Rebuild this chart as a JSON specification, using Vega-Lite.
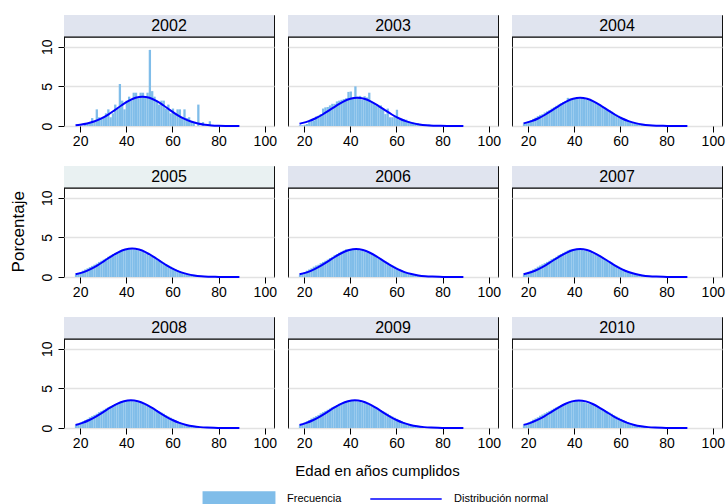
{
"$schema": "https://vega.github.io/schema/vega-lite/v6.json",
"padding": {"left": 10, "top": 14, "right": 5, "bottom": 0},
"title": {"text": "Porcentaje", "orient": "left", "anchor": "middle", "fontSize": 17, "fontWeight": "normal", "font": "Liberation Sans", "color": "#000", "offset": 12, "dx": 30},
"data": {"values": [
{"a":2002,"s":"F","e":21.5,"p":0.2},{"a":2002,"s":"F","e":22.5,"p":0.3},{"a":2002,"s":"F","e":23.5,"p":0.5},{"a":2002,"s":"F","e":24.5,"p":1.0},{"a":2002,"s":"F","e":25.5,"p":0.5},{"a":2002,"s":"F","e":26.5,"p":2.1},{"a":2002,"s":"F","e":27.5,"p":1.1},{"a":2002,"s":"F","e":28.5,"p":0.9},{"a":2002,"s":"F","e":29.5,"p":1.1},{"a":2002,"s":"F","e":30.5,"p":1.6},{"a":2002,"s":"F","e":31.5,"p":2.1},{"a":2002,"s":"F","e":32.5,"p":1.1},{"a":2002,"s":"F","e":33.5,"p":1.6},{"a":2002,"s":"F","e":34.5,"p":2.7},{"a":2002,"s":"F","e":35.5,"p":2.2},{"a":2002,"s":"F","e":36.5,"p":5.3},{"a":2002,"s":"F","e":37.5,"p":3.2},{"a":2002,"s":"F","e":38.5,"p":2.1},{"a":2002,"s":"F","e":39.5,"p":3.2},{"a":2002,"s":"F","e":40.5,"p":3.7},{"a":2002,"s":"F","e":41.5,"p":3.2},{"a":2002,"s":"F","e":42.5,"p":4.2},{"a":2002,"s":"F","e":43.5,"p":4.2},{"a":2002,"s":"F","e":44.5,"p":3.5},{"a":2002,"s":"F","e":45.5,"p":4.2},{"a":2002,"s":"F","e":46.5,"p":4.2},{"a":2002,"s":"F","e":47.5,"p":3.7},{"a":2002,"s":"F","e":48.5,"p":4.2},{"a":2002,"s":"F","e":49.5,"p":9.6},{"a":2002,"s":"F","e":50.5,"p":4.4},{"a":2002,"s":"F","e":51.5,"p":3.7},{"a":2002,"s":"F","e":52.5,"p":3.2},{"a":2002,"s":"F","e":53.5,"p":2.7},{"a":2002,"s":"F","e":54.5,"p":3.2},{"a":2002,"s":"F","e":55.5,"p":3.2},{"a":2002,"s":"F","e":56.5,"p":2.2},{"a":2002,"s":"F","e":57.5,"p":2.7},{"a":2002,"s":"F","e":58.5,"p":1.6},{"a":2002,"s":"F","e":59.5,"p":2.2},{"a":2002,"s":"F","e":60.5,"p":1.6},{"a":2002,"s":"F","e":61.5,"p":2.1},{"a":2002,"s":"F","e":62.5,"p":2.1},{"a":2002,"s":"F","e":63.5,"p":1.1},{"a":2002,"s":"F","e":64.5,"p":2.1},{"a":2002,"s":"F","e":65.5,"p":1.0},{"a":2002,"s":"F","e":66.5,"p":1.1},{"a":2002,"s":"F","e":67.5,"p":0.5},{"a":2002,"s":"F","e":68.5,"p":0.5},{"a":2002,"s":"F","e":70.5,"p":2.7},{"a":2002,"s":"F","e":72.5,"p":0.5},{"a":2002,"s":"F","e":75.5,"p":0.6},
{"a":2002,"s":"N","e":18,"p":0.1},{"a":2002,"s":"N","e":20,"p":0.16},{"a":2002,"s":"N","e":23,"p":0.31},{"a":2002,"s":"N","e":26,"p":0.56},{"a":2002,"s":"N","e":29,"p":0.92},{"a":2002,"s":"N","e":32,"p":1.41},{"a":2002,"s":"N","e":35,"p":2.0},{"a":2002,"s":"N","e":38,"p":2.62},{"a":2002,"s":"N","e":41,"p":3.17},{"a":2002,"s":"N","e":44,"p":3.56},{"a":2002,"s":"N","e":47,"p":3.7},{"a":2002,"s":"N","e":50,"p":3.56},{"a":2002,"s":"N","e":53,"p":3.17},{"a":2002,"s":"N","e":56,"p":2.62},{"a":2002,"s":"N","e":59,"p":2.0},{"a":2002,"s":"N","e":62,"p":1.41},{"a":2002,"s":"N","e":65,"p":0.92},{"a":2002,"s":"N","e":68,"p":0.56},{"a":2002,"s":"N","e":71,"p":0.31},{"a":2002,"s":"N","e":74,"p":0.16},{"a":2002,"s":"N","e":77,"p":0.078},{"a":2002,"s":"N","e":80,"p":0.035},{"a":2002,"s":"N","e":83,"p":0.014},{"a":2002,"s":"N","e":86,"p":0.005},{"a":2002,"s":"N","e":89,"p":0.002},
{"a":2003,"s":"F","e":17.5,"p":0.1},{"a":2003,"s":"F","e":18.5,"p":0.1},{"a":2003,"s":"F","e":19.5,"p":0.15},{"a":2003,"s":"F","e":20.5,"p":0.25},{"a":2003,"s":"F","e":21.5,"p":0.6},{"a":2003,"s":"F","e":22.5,"p":0.65},{"a":2003,"s":"F","e":23.5,"p":0.7},{"a":2003,"s":"F","e":24.5,"p":1.2},{"a":2003,"s":"F","e":25.5,"p":1.3},{"a":2003,"s":"F","e":26.5,"p":1.5},{"a":2003,"s":"F","e":27.5,"p":2.2},{"a":2003,"s":"F","e":28.5,"p":2.35},{"a":2003,"s":"F","e":29.5,"p":2.4},{"a":2003,"s":"F","e":30.5,"p":2.6},{"a":2003,"s":"F","e":31.5,"p":2.8},{"a":2003,"s":"F","e":32.5,"p":2.8},{"a":2003,"s":"F","e":33.5,"p":3.1},{"a":2003,"s":"F","e":34.5,"p":3.2},{"a":2003,"s":"F","e":35.5,"p":3.3},{"a":2003,"s":"F","e":36.5,"p":3.4},{"a":2003,"s":"F","e":37.5,"p":3.5},{"a":2003,"s":"F","e":38.5,"p":4.3},{"a":2003,"s":"F","e":39.5,"p":4.35},{"a":2003,"s":"F","e":40.5,"p":3.6},{"a":2003,"s":"F","e":41.5,"p":5.0},{"a":2003,"s":"F","e":42.5,"p":3.7},{"a":2003,"s":"F","e":43.5,"p":3.8},{"a":2003,"s":"F","e":44.5,"p":3.3},{"a":2003,"s":"F","e":45.5,"p":3.75},{"a":2003,"s":"F","e":46.5,"p":3.6},{"a":2003,"s":"F","e":47.5,"p":4.2},{"a":2003,"s":"F","e":48.5,"p":3.0},{"a":2003,"s":"F","e":49.5,"p":2.8},{"a":2003,"s":"F","e":50.5,"p":2.6},{"a":2003,"s":"F","e":51.5,"p":2.5},{"a":2003,"s":"F","e":52.5,"p":2.6},{"a":2003,"s":"F","e":53.5,"p":2.2},{"a":2003,"s":"F","e":54.5,"p":1.5},{"a":2003,"s":"F","e":55.5,"p":2.2},{"a":2003,"s":"F","e":56.5,"p":1.1},{"a":2003,"s":"F","e":57.5,"p":1.1},{"a":2003,"s":"F","e":58.5,"p":1.3},{"a":2003,"s":"F","e":59.5,"p":2.05},{"a":2003,"s":"F","e":60.5,"p":0.8},{"a":2003,"s":"F","e":61.5,"p":0.8},{"a":2003,"s":"F","e":62.5,"p":0.85},{"a":2003,"s":"F","e":63.5,"p":0.8},{"a":2003,"s":"F","e":64.5,"p":0.6},{"a":2003,"s":"F","e":65.5,"p":0.45},{"a":2003,"s":"F","e":66.5,"p":0.45},{"a":2003,"s":"F","e":67.5,"p":0.4},{"a":2003,"s":"F","e":68.5,"p":0.35},{"a":2003,"s":"F","e":69.5,"p":0.2},{"a":2003,"s":"F","e":70.5,"p":0.2},{"a":2003,"s":"F","e":71.5,"p":0.15},{"a":2003,"s":"F","e":72.5,"p":0.15},{"a":2003,"s":"F","e":73.5,"p":0.2},{"a":2003,"s":"F","e":74.5,"p":0.1},{"a":2003,"s":"F","e":75.5,"p":0.1},{"a":2003,"s":"F","e":76.5,"p":0.05},{"a":2003,"s":"F","e":77.5,"p":0.05},{"a":2003,"s":"F","e":78.5,"p":0.05},{"a":2003,"s":"F","e":79.5,"p":0.03},{"a":2003,"s":"F","e":81.5,"p":0.02},{"a":2003,"s":"F","e":84.5,"p":0.02},
{"a":2003,"s":"N","e":18,"p":0.29},{"a":2003,"s":"N","e":19,"p":0.36},{"a":2003,"s":"N","e":22,"p":0.61},{"a":2003,"s":"N","e":25,"p":0.98},{"a":2003,"s":"N","e":28,"p":1.45},{"a":2003,"s":"N","e":31,"p":2.01},{"a":2003,"s":"N","e":34,"p":2.58},{"a":2003,"s":"N","e":37,"p":3.08},{"a":2003,"s":"N","e":40,"p":3.43},{"a":2003,"s":"N","e":43,"p":3.56},{"a":2003,"s":"N","e":46,"p":3.43},{"a":2003,"s":"N","e":49,"p":3.08},{"a":2003,"s":"N","e":52,"p":2.58},{"a":2003,"s":"N","e":55,"p":2.01},{"a":2003,"s":"N","e":58,"p":1.45},{"a":2003,"s":"N","e":61,"p":0.98},{"a":2003,"s":"N","e":64,"p":0.61},{"a":2003,"s":"N","e":67,"p":0.36},{"a":2003,"s":"N","e":70,"p":0.195},{"a":2003,"s":"N","e":73,"p":0.099},{"a":2003,"s":"N","e":76,"p":0.046},{"a":2003,"s":"N","e":79,"p":0.02},{"a":2003,"s":"N","e":82,"p":0.008},{"a":2003,"s":"N","e":85,"p":0.003},{"a":2003,"s":"N","e":89,"p":0.001},
{"a":2004,"s":"F","e":17.5,"p":0.3},{"a":2004,"s":"F","e":18.5,"p":0.45},{"a":2004,"s":"F","e":19.5,"p":0.6},{"a":2004,"s":"F","e":20.5,"p":0.75},{"a":2004,"s":"F","e":21.5,"p":0.9},{"a":2004,"s":"F","e":22.5,"p":1.05},{"a":2004,"s":"F","e":23.5,"p":1.25},{"a":2004,"s":"F","e":24.5,"p":1.4},{"a":2004,"s":"F","e":25.5,"p":1.5},{"a":2004,"s":"F","e":26.5,"p":1.7},{"a":2004,"s":"F","e":27.5,"p":1.85},{"a":2004,"s":"F","e":28.5,"p":2.0},{"a":2004,"s":"F","e":29.5,"p":2.2},{"a":2004,"s":"F","e":30.5,"p":2.35},{"a":2004,"s":"F","e":31.5,"p":2.55},{"a":2004,"s":"F","e":32.5,"p":2.7},{"a":2004,"s":"F","e":33.5,"p":2.85},{"a":2004,"s":"F","e":34.5,"p":3.0},{"a":2004,"s":"F","e":35.5,"p":3.15},{"a":2004,"s":"F","e":36.5,"p":3.55},{"a":2004,"s":"F","e":37.5,"p":3.45},{"a":2004,"s":"F","e":38.5,"p":3.5},{"a":2004,"s":"F","e":39.5,"p":3.5},{"a":2004,"s":"F","e":40.5,"p":3.55},{"a":2004,"s":"F","e":41.5,"p":3.45},{"a":2004,"s":"F","e":42.5,"p":3.5},{"a":2004,"s":"F","e":43.5,"p":3.4},{"a":2004,"s":"F","e":44.5,"p":3.3},{"a":2004,"s":"F","e":45.5,"p":3.25},{"a":2004,"s":"F","e":46.5,"p":3.15},{"a":2004,"s":"F","e":47.5,"p":3.05},{"a":2004,"s":"F","e":48.5,"p":2.9},{"a":2004,"s":"F","e":49.5,"p":2.8},{"a":2004,"s":"F","e":50.5,"p":2.65},{"a":2004,"s":"F","e":51.5,"p":2.5},{"a":2004,"s":"F","e":52.5,"p":2.3},{"a":2004,"s":"F","e":53.5,"p":2.15},{"a":2004,"s":"F","e":54.5,"p":2.0},{"a":2004,"s":"F","e":55.5,"p":1.8},{"a":2004,"s":"F","e":56.5,"p":1.65},{"a":2004,"s":"F","e":57.5,"p":1.45},{"a":2004,"s":"F","e":58.5,"p":1.3},{"a":2004,"s":"F","e":59.5,"p":1.15},{"a":2004,"s":"F","e":60.5,"p":1.0},{"a":2004,"s":"F","e":61.5,"p":0.85},{"a":2004,"s":"F","e":62.5,"p":0.7},{"a":2004,"s":"F","e":63.5,"p":0.6},{"a":2004,"s":"F","e":64.5,"p":0.5},{"a":2004,"s":"F","e":65.5,"p":0.4},{"a":2004,"s":"F","e":66.5,"p":0.32},{"a":2004,"s":"F","e":67.5,"p":0.25},{"a":2004,"s":"F","e":68.5,"p":0.2},{"a":2004,"s":"F","e":69.5,"p":0.15},{"a":2004,"s":"F","e":70.5,"p":0.12},{"a":2004,"s":"F","e":71.5,"p":0.1},{"a":2004,"s":"F","e":72.5,"p":0.09},{"a":2004,"s":"F","e":73.5,"p":0.07},{"a":2004,"s":"F","e":74.5,"p":0.05},{"a":2004,"s":"F","e":75.5,"p":0.04},{"a":2004,"s":"F","e":76.5,"p":0.04},{"a":2004,"s":"F","e":77.5,"p":0.03},{"a":2004,"s":"F","e":78.5,"p":0.03},{"a":2004,"s":"F","e":79.5,"p":0.02},{"a":2004,"s":"F","e":80.5,"p":0.02},{"a":2004,"s":"F","e":81.5,"p":0.01},
{"a":2004,"s":"N","e":18,"p":0.33},{"a":2004,"s":"N","e":21.5,"p":0.61},{"a":2004,"s":"N","e":24.5,"p":0.98},{"a":2004,"s":"N","e":27.5,"p":1.45},{"a":2004,"s":"N","e":30.5,"p":2.01},{"a":2004,"s":"N","e":33.5,"p":2.58},{"a":2004,"s":"N","e":36.5,"p":3.08},{"a":2004,"s":"N","e":39.5,"p":3.43},{"a":2004,"s":"N","e":42.5,"p":3.56},{"a":2004,"s":"N","e":45.5,"p":3.43},{"a":2004,"s":"N","e":48.5,"p":3.08},{"a":2004,"s":"N","e":51.5,"p":2.58},{"a":2004,"s":"N","e":54.5,"p":2.01},{"a":2004,"s":"N","e":57.5,"p":1.45},{"a":2004,"s":"N","e":60.5,"p":0.98},{"a":2004,"s":"N","e":63.5,"p":0.61},{"a":2004,"s":"N","e":66.5,"p":0.36},{"a":2004,"s":"N","e":69.5,"p":0.195},{"a":2004,"s":"N","e":72.5,"p":0.099},{"a":2004,"s":"N","e":75.5,"p":0.046},{"a":2004,"s":"N","e":78.5,"p":0.02},{"a":2004,"s":"N","e":81.5,"p":0.008},{"a":2004,"s":"N","e":84.5,"p":0.003},{"a":2004,"s":"N","e":89,"p":0.001},
{"a":2005,"s":"F","e":17.5,"p":0.3},{"a":2005,"s":"F","e":18.5,"p":0.45},{"a":2005,"s":"F","e":19.5,"p":0.6},{"a":2005,"s":"F","e":20.5,"p":0.8},{"a":2005,"s":"F","e":21.5,"p":0.95},{"a":2005,"s":"F","e":22.5,"p":1.1},{"a":2005,"s":"F","e":23.5,"p":1.25},{"a":2005,"s":"F","e":24.5,"p":1.4},{"a":2005,"s":"F","e":25.5,"p":1.55},{"a":2005,"s":"F","e":26.5,"p":1.7},{"a":2005,"s":"F","e":27.5,"p":1.9},{"a":2005,"s":"F","e":28.5,"p":2.05},{"a":2005,"s":"F","e":29.5,"p":2.2},{"a":2005,"s":"F","e":30.5,"p":2.35},{"a":2005,"s":"F","e":31.5,"p":2.55},{"a":2005,"s":"F","e":32.5,"p":2.7},{"a":2005,"s":"F","e":33.5,"p":2.9},{"a":2005,"s":"F","e":34.5,"p":3.0},{"a":2005,"s":"F","e":35.5,"p":3.15},{"a":2005,"s":"F","e":36.5,"p":3.3},{"a":2005,"s":"F","e":37.5,"p":3.4},{"a":2005,"s":"F","e":38.5,"p":3.45},{"a":2005,"s":"F","e":39.5,"p":3.55},{"a":2005,"s":"F","e":40.5,"p":3.5},{"a":2005,"s":"F","e":41.5,"p":3.5},{"a":2005,"s":"F","e":42.5,"p":3.45},{"a":2005,"s":"F","e":43.5,"p":3.4},{"a":2005,"s":"F","e":44.5,"p":3.35},{"a":2005,"s":"F","e":45.5,"p":3.25},{"a":2005,"s":"F","e":46.5,"p":3.15},{"a":2005,"s":"F","e":47.5,"p":3.0},{"a":2005,"s":"F","e":48.5,"p":2.9},{"a":2005,"s":"F","e":49.5,"p":2.75},{"a":2005,"s":"F","e":50.5,"p":2.6},{"a":2005,"s":"F","e":51.5,"p":2.45},{"a":2005,"s":"F","e":52.5,"p":2.3},{"a":2005,"s":"F","e":53.5,"p":2.15},{"a":2005,"s":"F","e":54.5,"p":1.95},{"a":2005,"s":"F","e":55.5,"p":1.8},{"a":2005,"s":"F","e":56.5,"p":1.65},{"a":2005,"s":"F","e":57.5,"p":1.45},{"a":2005,"s":"F","e":58.5,"p":1.3},{"a":2005,"s":"F","e":59.5,"p":1.15},{"a":2005,"s":"F","e":60.5,"p":1.0},{"a":2005,"s":"F","e":61.5,"p":0.85},{"a":2005,"s":"F","e":62.5,"p":0.72},{"a":2005,"s":"F","e":63.5,"p":0.6},{"a":2005,"s":"F","e":64.5,"p":0.5},{"a":2005,"s":"F","e":65.5,"p":0.4},{"a":2005,"s":"F","e":66.5,"p":0.32},{"a":2005,"s":"F","e":67.5,"p":0.25},{"a":2005,"s":"F","e":68.5,"p":0.2},{"a":2005,"s":"F","e":69.5,"p":0.15},{"a":2005,"s":"F","e":70.5,"p":0.12},{"a":2005,"s":"F","e":71.5,"p":0.1},{"a":2005,"s":"F","e":72.5,"p":0.08},{"a":2005,"s":"F","e":73.5,"p":0.06},{"a":2005,"s":"F","e":74.5,"p":0.05},{"a":2005,"s":"F","e":75.5,"p":0.04},{"a":2005,"s":"F","e":76.5,"p":0.04},{"a":2005,"s":"F","e":77.5,"p":0.03},{"a":2005,"s":"F","e":78.5,"p":0.03},{"a":2005,"s":"F","e":79.5,"p":0.02},{"a":2005,"s":"F","e":80.5,"p":0.02},{"a":2005,"s":"F","e":81.5,"p":0.01},
{"a":2005,"s":"N","e":18,"p":0.34},{"a":2005,"s":"N","e":21.5,"p":0.62},{"a":2005,"s":"N","e":24.5,"p":1.0},{"a":2005,"s":"N","e":27.5,"p":1.47},{"a":2005,"s":"N","e":30.5,"p":2.03},{"a":2005,"s":"N","e":33.5,"p":2.61},{"a":2005,"s":"N","e":36.5,"p":3.11},{"a":2005,"s":"N","e":39.5,"p":3.46},{"a":2005,"s":"N","e":42.5,"p":3.59},{"a":2005,"s":"N","e":45.5,"p":3.46},{"a":2005,"s":"N","e":48.5,"p":3.11},{"a":2005,"s":"N","e":51.5,"p":2.61},{"a":2005,"s":"N","e":54.5,"p":2.03},{"a":2005,"s":"N","e":57.5,"p":1.47},{"a":2005,"s":"N","e":60.5,"p":1.0},{"a":2005,"s":"N","e":63.5,"p":0.62},{"a":2005,"s":"N","e":66.5,"p":0.36},{"a":2005,"s":"N","e":69.5,"p":0.195},{"a":2005,"s":"N","e":72.5,"p":0.099},{"a":2005,"s":"N","e":75.5,"p":0.046},{"a":2005,"s":"N","e":78.5,"p":0.02},{"a":2005,"s":"N","e":81.5,"p":0.008},{"a":2005,"s":"N","e":84.5,"p":0.003},{"a":2005,"s":"N","e":89,"p":0.001},
{"a":2006,"s":"F","e":17.5,"p":0.3},{"a":2006,"s":"F","e":18.5,"p":0.5},{"a":2006,"s":"F","e":19.5,"p":0.6},{"a":2006,"s":"F","e":20.5,"p":0.8},{"a":2006,"s":"F","e":21.5,"p":0.95},{"a":2006,"s":"F","e":22.5,"p":1.1},{"a":2006,"s":"F","e":23.5,"p":1.3},{"a":2006,"s":"F","e":24.5,"p":1.45},{"a":2006,"s":"F","e":25.5,"p":1.55},{"a":2006,"s":"F","e":26.5,"p":1.75},{"a":2006,"s":"F","e":27.5,"p":1.9},{"a":2006,"s":"F","e":28.5,"p":2.05},{"a":2006,"s":"F","e":29.5,"p":2.2},{"a":2006,"s":"F","e":30.5,"p":2.4},{"a":2006,"s":"F","e":31.5,"p":2.55},{"a":2006,"s":"F","e":32.5,"p":2.75},{"a":2006,"s":"F","e":33.5,"p":2.9},{"a":2006,"s":"F","e":34.5,"p":3.05},{"a":2006,"s":"F","e":35.5,"p":3.2},{"a":2006,"s":"F","e":36.5,"p":3.35},{"a":2006,"s":"F","e":37.5,"p":3.5},{"a":2006,"s":"F","e":38.5,"p":3.5},{"a":2006,"s":"F","e":39.5,"p":3.5},{"a":2006,"s":"F","e":40.5,"p":3.5},{"a":2006,"s":"F","e":41.5,"p":3.45},{"a":2006,"s":"F","e":42.5,"p":3.45},{"a":2006,"s":"F","e":43.5,"p":3.35},{"a":2006,"s":"F","e":44.5,"p":3.3},{"a":2006,"s":"F","e":45.5,"p":3.2},{"a":2006,"s":"F","e":46.5,"p":3.1},{"a":2006,"s":"F","e":47.5,"p":3.0},{"a":2006,"s":"F","e":48.5,"p":2.85},{"a":2006,"s":"F","e":49.5,"p":2.75},{"a":2006,"s":"F","e":50.5,"p":2.6},{"a":2006,"s":"F","e":51.5,"p":2.45},{"a":2006,"s":"F","e":52.5,"p":2.3},{"a":2006,"s":"F","e":53.5,"p":2.1},{"a":2006,"s":"F","e":54.5,"p":1.95},{"a":2006,"s":"F","e":55.5,"p":1.8},{"a":2006,"s":"F","e":56.5,"p":1.6},{"a":2006,"s":"F","e":57.5,"p":1.45},{"a":2006,"s":"F","e":58.5,"p":1.3},{"a":2006,"s":"F","e":59.5,"p":1.15},{"a":2006,"s":"F","e":60.5,"p":1.0},{"a":2006,"s":"F","e":61.5,"p":0.85},{"a":2006,"s":"F","e":62.5,"p":0.72},{"a":2006,"s":"F","e":63.5,"p":0.6},{"a":2006,"s":"F","e":64.5,"p":0.5},{"a":2006,"s":"F","e":65.5,"p":0.4},{"a":2006,"s":"F","e":66.5,"p":0.32},{"a":2006,"s":"F","e":67.5,"p":0.25},{"a":2006,"s":"F","e":68.5,"p":0.2},{"a":2006,"s":"F","e":69.5,"p":0.15},{"a":2006,"s":"F","e":70.5,"p":0.12},{"a":2006,"s":"F","e":71.5,"p":0.1},{"a":2006,"s":"F","e":72.5,"p":0.08},{"a":2006,"s":"F","e":73.5,"p":0.06},{"a":2006,"s":"F","e":74.5,"p":0.05},{"a":2006,"s":"F","e":75.5,"p":0.04},{"a":2006,"s":"F","e":76.5,"p":0.04},{"a":2006,"s":"F","e":77.5,"p":0.03},{"a":2006,"s":"F","e":78.5,"p":0.03},{"a":2006,"s":"F","e":79.5,"p":0.02},{"a":2006,"s":"F","e":80.5,"p":0.02},{"a":2006,"s":"F","e":81.5,"p":0.01},
{"a":2006,"s":"N","e":18,"p":0.35},{"a":2006,"s":"N","e":21.5,"p":0.62},{"a":2006,"s":"N","e":24.5,"p":0.99},{"a":2006,"s":"N","e":27.5,"p":1.46},{"a":2006,"s":"N","e":30.5,"p":2.01},{"a":2006,"s":"N","e":33.5,"p":2.57},{"a":2006,"s":"N","e":36.5,"p":3.06},{"a":2006,"s":"N","e":39.5,"p":3.41},{"a":2006,"s":"N","e":42.5,"p":3.54},{"a":2006,"s":"N","e":45.5,"p":3.41},{"a":2006,"s":"N","e":48.5,"p":3.06},{"a":2006,"s":"N","e":51.5,"p":2.57},{"a":2006,"s":"N","e":54.5,"p":2.01},{"a":2006,"s":"N","e":57.5,"p":1.46},{"a":2006,"s":"N","e":60.5,"p":0.99},{"a":2006,"s":"N","e":63.5,"p":0.62},{"a":2006,"s":"N","e":66.5,"p":0.37},{"a":2006,"s":"N","e":69.5,"p":0.2},{"a":2006,"s":"N","e":72.5,"p":0.1},{"a":2006,"s":"N","e":75.5,"p":0.048},{"a":2006,"s":"N","e":78.5,"p":0.021},{"a":2006,"s":"N","e":81.5,"p":0.008},{"a":2006,"s":"N","e":84.5,"p":0.003},{"a":2006,"s":"N","e":89,"p":0.001},
{"a":2007,"s":"F","e":17.5,"p":0.3},{"a":2007,"s":"F","e":18.5,"p":0.45},{"a":2007,"s":"F","e":19.5,"p":0.65},{"a":2007,"s":"F","e":20.5,"p":0.8},{"a":2007,"s":"F","e":21.5,"p":0.95},{"a":2007,"s":"F","e":22.5,"p":1.1},{"a":2007,"s":"F","e":23.5,"p":1.3},{"a":2007,"s":"F","e":24.5,"p":1.45},{"a":2007,"s":"F","e":25.5,"p":1.6},{"a":2007,"s":"F","e":26.5,"p":1.75},{"a":2007,"s":"F","e":27.5,"p":1.9},{"a":2007,"s":"F","e":28.5,"p":2.05},{"a":2007,"s":"F","e":29.5,"p":2.25},{"a":2007,"s":"F","e":30.5,"p":2.4},{"a":2007,"s":"F","e":31.5,"p":2.55},{"a":2007,"s":"F","e":32.5,"p":2.75},{"a":2007,"s":"F","e":33.5,"p":2.9},{"a":2007,"s":"F","e":34.5,"p":3.05},{"a":2007,"s":"F","e":35.5,"p":3.2},{"a":2007,"s":"F","e":36.5,"p":3.35},{"a":2007,"s":"F","e":37.5,"p":3.45},{"a":2007,"s":"F","e":38.5,"p":3.5},{"a":2007,"s":"F","e":39.5,"p":3.45},{"a":2007,"s":"F","e":40.5,"p":3.5},{"a":2007,"s":"F","e":41.5,"p":3.45},{"a":2007,"s":"F","e":42.5,"p":3.4},{"a":2007,"s":"F","e":43.5,"p":3.35},{"a":2007,"s":"F","e":44.5,"p":3.3},{"a":2007,"s":"F","e":45.5,"p":3.2},{"a":2007,"s":"F","e":46.5,"p":3.1},{"a":2007,"s":"F","e":47.5,"p":2.95},{"a":2007,"s":"F","e":48.5,"p":2.85},{"a":2007,"s":"F","e":49.5,"p":2.7},{"a":2007,"s":"F","e":50.5,"p":2.6},{"a":2007,"s":"F","e":51.5,"p":2.45},{"a":2007,"s":"F","e":52.5,"p":2.3},{"a":2007,"s":"F","e":53.5,"p":2.1},{"a":2007,"s":"F","e":54.5,"p":1.95},{"a":2007,"s":"F","e":55.5,"p":1.8},{"a":2007,"s":"F","e":56.5,"p":1.6},{"a":2007,"s":"F","e":57.5,"p":1.45},{"a":2007,"s":"F","e":58.5,"p":1.3},{"a":2007,"s":"F","e":59.5,"p":1.15},{"a":2007,"s":"F","e":60.5,"p":1.0},{"a":2007,"s":"F","e":61.5,"p":0.85},{"a":2007,"s":"F","e":62.5,"p":0.72},{"a":2007,"s":"F","e":63.5,"p":0.6},{"a":2007,"s":"F","e":64.5,"p":0.5},{"a":2007,"s":"F","e":65.5,"p":0.4},{"a":2007,"s":"F","e":66.5,"p":0.33},{"a":2007,"s":"F","e":67.5,"p":0.26},{"a":2007,"s":"F","e":68.5,"p":0.2},{"a":2007,"s":"F","e":69.5,"p":0.16},{"a":2007,"s":"F","e":70.5,"p":0.12},{"a":2007,"s":"F","e":71.5,"p":0.1},{"a":2007,"s":"F","e":72.5,"p":0.08},{"a":2007,"s":"F","e":73.5,"p":0.06},{"a":2007,"s":"F","e":74.5,"p":0.05},{"a":2007,"s":"F","e":75.5,"p":0.04},{"a":2007,"s":"F","e":76.5,"p":0.04},{"a":2007,"s":"F","e":77.5,"p":0.03},{"a":2007,"s":"F","e":78.5,"p":0.03},{"a":2007,"s":"F","e":79.5,"p":0.02},{"a":2007,"s":"F","e":80.5,"p":0.02},{"a":2007,"s":"F","e":81.5,"p":0.01},
{"a":2007,"s":"N","e":18,"p":0.35},{"a":2007,"s":"N","e":21.5,"p":0.63},{"a":2007,"s":"N","e":24.5,"p":1.0},{"a":2007,"s":"N","e":27.5,"p":1.47},{"a":2007,"s":"N","e":30.5,"p":2.02},{"a":2007,"s":"N","e":33.5,"p":2.57},{"a":2007,"s":"N","e":36.5,"p":3.05},{"a":2007,"s":"N","e":39.5,"p":3.4},{"a":2007,"s":"N","e":42.5,"p":3.52},{"a":2007,"s":"N","e":45.5,"p":3.4},{"a":2007,"s":"N","e":48.5,"p":3.05},{"a":2007,"s":"N","e":51.5,"p":2.57},{"a":2007,"s":"N","e":54.5,"p":2.02},{"a":2007,"s":"N","e":57.5,"p":1.47},{"a":2007,"s":"N","e":60.5,"p":1.0},{"a":2007,"s":"N","e":63.5,"p":0.63},{"a":2007,"s":"N","e":66.5,"p":0.37},{"a":2007,"s":"N","e":69.5,"p":0.2},{"a":2007,"s":"N","e":72.5,"p":0.1},{"a":2007,"s":"N","e":75.5,"p":0.048},{"a":2007,"s":"N","e":78.5,"p":0.021},{"a":2007,"s":"N","e":81.5,"p":0.008},{"a":2007,"s":"N","e":84.5,"p":0.003},{"a":2007,"s":"N","e":89,"p":0.001},
{"a":2008,"s":"F","e":17.5,"p":0.35},{"a":2008,"s":"F","e":18.5,"p":0.5},{"a":2008,"s":"F","e":19.5,"p":0.7},{"a":2008,"s":"F","e":20.5,"p":0.85},{"a":2008,"s":"F","e":21.5,"p":1.0},{"a":2008,"s":"F","e":22.5,"p":1.15},{"a":2008,"s":"F","e":23.5,"p":1.35},{"a":2008,"s":"F","e":24.5,"p":1.5},{"a":2008,"s":"F","e":25.5,"p":1.65},{"a":2008,"s":"F","e":26.5,"p":1.8},{"a":2008,"s":"F","e":27.5,"p":2.0},{"a":2008,"s":"F","e":28.5,"p":2.15},{"a":2008,"s":"F","e":29.5,"p":2.3},{"a":2008,"s":"F","e":30.5,"p":2.45},{"a":2008,"s":"F","e":31.5,"p":2.6},{"a":2008,"s":"F","e":32.5,"p":2.75},{"a":2008,"s":"F","e":33.5,"p":2.9},{"a":2008,"s":"F","e":34.5,"p":3.0},{"a":2008,"s":"F","e":35.5,"p":3.15},{"a":2008,"s":"F","e":36.5,"p":3.25},{"a":2008,"s":"F","e":37.5,"p":3.35},{"a":2008,"s":"F","e":38.5,"p":3.4},{"a":2008,"s":"F","e":39.5,"p":3.4},{"a":2008,"s":"F","e":40.5,"p":3.45},{"a":2008,"s":"F","e":41.5,"p":3.4},{"a":2008,"s":"F","e":42.5,"p":3.35},{"a":2008,"s":"F","e":43.5,"p":3.3},{"a":2008,"s":"F","e":44.5,"p":3.25},{"a":2008,"s":"F","e":45.5,"p":3.15},{"a":2008,"s":"F","e":46.5,"p":3.05},{"a":2008,"s":"F","e":47.5,"p":2.95},{"a":2008,"s":"F","e":48.5,"p":2.8},{"a":2008,"s":"F","e":49.5,"p":2.7},{"a":2008,"s":"F","e":50.5,"p":2.55},{"a":2008,"s":"F","e":51.5,"p":2.4},{"a":2008,"s":"F","e":52.5,"p":2.25},{"a":2008,"s":"F","e":53.5,"p":2.1},{"a":2008,"s":"F","e":54.5,"p":1.95},{"a":2008,"s":"F","e":55.5,"p":1.8},{"a":2008,"s":"F","e":56.5,"p":1.6},{"a":2008,"s":"F","e":57.5,"p":1.45},{"a":2008,"s":"F","e":58.5,"p":1.3},{"a":2008,"s":"F","e":59.5,"p":1.15},{"a":2008,"s":"F","e":60.5,"p":1.0},{"a":2008,"s":"F","e":61.5,"p":0.85},{"a":2008,"s":"F","e":62.5,"p":0.72},{"a":2008,"s":"F","e":63.5,"p":0.6},{"a":2008,"s":"F","e":64.5,"p":0.5},{"a":2008,"s":"F","e":65.5,"p":0.4},{"a":2008,"s":"F","e":66.5,"p":0.32},{"a":2008,"s":"F","e":67.5,"p":0.26},{"a":2008,"s":"F","e":68.5,"p":0.2},{"a":2008,"s":"F","e":69.5,"p":0.16},{"a":2008,"s":"F","e":70.5,"p":0.13},{"a":2008,"s":"F","e":71.5,"p":0.1},{"a":2008,"s":"F","e":72.5,"p":0.08},{"a":2008,"s":"F","e":73.5,"p":0.07},{"a":2008,"s":"F","e":74.5,"p":0.05},{"a":2008,"s":"F","e":75.5,"p":0.04},{"a":2008,"s":"F","e":76.5,"p":0.04},{"a":2008,"s":"F","e":77.5,"p":0.03},{"a":2008,"s":"F","e":78.5,"p":0.03},{"a":2008,"s":"F","e":79.5,"p":0.02},{"a":2008,"s":"F","e":80.5,"p":0.02},{"a":2008,"s":"F","e":81.5,"p":0.01},
{"a":2008,"s":"N","e":18,"p":0.38},{"a":2008,"s":"N","e":21,"p":0.64},{"a":2008,"s":"N","e":24,"p":1.01},{"a":2008,"s":"N","e":27,"p":1.47},{"a":2008,"s":"N","e":30,"p":2.01},{"a":2008,"s":"N","e":33,"p":2.56},{"a":2008,"s":"N","e":36,"p":3.05},{"a":2008,"s":"N","e":39,"p":3.38},{"a":2008,"s":"N","e":42,"p":3.5},{"a":2008,"s":"N","e":45,"p":3.38},{"a":2008,"s":"N","e":48,"p":3.05},{"a":2008,"s":"N","e":51,"p":2.56},{"a":2008,"s":"N","e":54,"p":2.01},{"a":2008,"s":"N","e":57,"p":1.47},{"a":2008,"s":"N","e":60,"p":1.01},{"a":2008,"s":"N","e":63,"p":0.64},{"a":2008,"s":"N","e":66,"p":0.38},{"a":2008,"s":"N","e":69,"p":0.21},{"a":2008,"s":"N","e":72,"p":0.11},{"a":2008,"s":"N","e":75,"p":0.053},{"a":2008,"s":"N","e":78,"p":0.024},{"a":2008,"s":"N","e":81,"p":0.01},{"a":2008,"s":"N","e":84,"p":0.004},{"a":2008,"s":"N","e":89,"p":0.001},
{"a":2009,"s":"F","e":17.5,"p":0.35},{"a":2009,"s":"F","e":18.5,"p":0.5},{"a":2009,"s":"F","e":19.5,"p":0.7},{"a":2009,"s":"F","e":20.5,"p":0.85},{"a":2009,"s":"F","e":21.5,"p":1.0},{"a":2009,"s":"F","e":22.5,"p":1.2},{"a":2009,"s":"F","e":23.5,"p":1.35},{"a":2009,"s":"F","e":24.5,"p":1.5},{"a":2009,"s":"F","e":25.5,"p":1.65},{"a":2009,"s":"F","e":26.5,"p":1.85},{"a":2009,"s":"F","e":27.5,"p":2.0},{"a":2009,"s":"F","e":28.5,"p":2.15},{"a":2009,"s":"F","e":29.5,"p":2.3},{"a":2009,"s":"F","e":30.5,"p":2.45},{"a":2009,"s":"F","e":31.5,"p":2.6},{"a":2009,"s":"F","e":32.5,"p":2.75},{"a":2009,"s":"F","e":33.5,"p":2.9},{"a":2009,"s":"F","e":34.5,"p":3.05},{"a":2009,"s":"F","e":35.5,"p":3.15},{"a":2009,"s":"F","e":36.5,"p":3.25},{"a":2009,"s":"F","e":37.5,"p":3.35},{"a":2009,"s":"F","e":38.5,"p":3.4},{"a":2009,"s":"F","e":39.5,"p":3.45},{"a":2009,"s":"F","e":40.5,"p":3.4},{"a":2009,"s":"F","e":41.5,"p":3.4},{"a":2009,"s":"F","e":42.5,"p":3.35},{"a":2009,"s":"F","e":43.5,"p":3.3},{"a":2009,"s":"F","e":44.5,"p":3.2},{"a":2009,"s":"F","e":45.5,"p":3.15},{"a":2009,"s":"F","e":46.5,"p":3.05},{"a":2009,"s":"F","e":47.5,"p":2.9},{"a":2009,"s":"F","e":48.5,"p":2.8},{"a":2009,"s":"F","e":49.5,"p":2.65},{"a":2009,"s":"F","e":50.5,"p":2.55},{"a":2009,"s":"F","e":51.5,"p":2.4},{"a":2009,"s":"F","e":52.5,"p":2.25},{"a":2009,"s":"F","e":53.5,"p":2.1},{"a":2009,"s":"F","e":54.5,"p":1.95},{"a":2009,"s":"F","e":55.5,"p":1.8},{"a":2009,"s":"F","e":56.5,"p":1.6},{"a":2009,"s":"F","e":57.5,"p":1.45},{"a":2009,"s":"F","e":58.5,"p":1.3},{"a":2009,"s":"F","e":59.5,"p":1.15},{"a":2009,"s":"F","e":60.5,"p":1.0},{"a":2009,"s":"F","e":61.5,"p":0.87},{"a":2009,"s":"F","e":62.5,"p":0.73},{"a":2009,"s":"F","e":63.5,"p":0.6},{"a":2009,"s":"F","e":64.5,"p":0.5},{"a":2009,"s":"F","e":65.5,"p":0.41},{"a":2009,"s":"F","e":66.5,"p":0.33},{"a":2009,"s":"F","e":67.5,"p":0.26},{"a":2009,"s":"F","e":68.5,"p":0.2},{"a":2009,"s":"F","e":69.5,"p":0.16},{"a":2009,"s":"F","e":70.5,"p":0.13},{"a":2009,"s":"F","e":71.5,"p":0.1},{"a":2009,"s":"F","e":72.5,"p":0.08},{"a":2009,"s":"F","e":73.5,"p":0.07},{"a":2009,"s":"F","e":74.5,"p":0.05},{"a":2009,"s":"F","e":75.5,"p":0.04},{"a":2009,"s":"F","e":76.5,"p":0.04},{"a":2009,"s":"F","e":77.5,"p":0.03},{"a":2009,"s":"F","e":78.5,"p":0.03},{"a":2009,"s":"F","e":79.5,"p":0.02},{"a":2009,"s":"F","e":80.5,"p":0.02},{"a":2009,"s":"F","e":81.5,"p":0.01},
{"a":2009,"s":"N","e":18,"p":0.38},{"a":2009,"s":"N","e":21,"p":0.64},{"a":2009,"s":"N","e":24,"p":1.01},{"a":2009,"s":"N","e":27,"p":1.47},{"a":2009,"s":"N","e":30,"p":2.01},{"a":2009,"s":"N","e":33,"p":2.56},{"a":2009,"s":"N","e":36,"p":3.05},{"a":2009,"s":"N","e":39,"p":3.38},{"a":2009,"s":"N","e":42,"p":3.5},{"a":2009,"s":"N","e":45,"p":3.38},{"a":2009,"s":"N","e":48,"p":3.05},{"a":2009,"s":"N","e":51,"p":2.56},{"a":2009,"s":"N","e":54,"p":2.01},{"a":2009,"s":"N","e":57,"p":1.47},{"a":2009,"s":"N","e":60,"p":1.01},{"a":2009,"s":"N","e":63,"p":0.64},{"a":2009,"s":"N","e":66,"p":0.38},{"a":2009,"s":"N","e":69,"p":0.21},{"a":2009,"s":"N","e":72,"p":0.11},{"a":2009,"s":"N","e":75,"p":0.053},{"a":2009,"s":"N","e":78,"p":0.024},{"a":2009,"s":"N","e":81,"p":0.01},{"a":2009,"s":"N","e":84,"p":0.004},{"a":2009,"s":"N","e":89,"p":0.001},
{"a":2010,"s":"F","e":17.5,"p":0.35},{"a":2010,"s":"F","e":18.5,"p":0.5},{"a":2010,"s":"F","e":19.5,"p":0.7},{"a":2010,"s":"F","e":20.5,"p":0.85},{"a":2010,"s":"F","e":21.5,"p":1.05},{"a":2010,"s":"F","e":22.5,"p":1.2},{"a":2010,"s":"F","e":23.5,"p":1.35},{"a":2010,"s":"F","e":24.5,"p":1.55},{"a":2010,"s":"F","e":25.5,"p":1.7},{"a":2010,"s":"F","e":26.5,"p":1.85},{"a":2010,"s":"F","e":27.5,"p":2.0},{"a":2010,"s":"F","e":28.5,"p":2.15},{"a":2010,"s":"F","e":29.5,"p":2.3},{"a":2010,"s":"F","e":30.5,"p":2.45},{"a":2010,"s":"F","e":31.5,"p":2.6},{"a":2010,"s":"F","e":32.5,"p":2.75},{"a":2010,"s":"F","e":33.5,"p":2.9},{"a":2010,"s":"F","e":34.5,"p":3.0},{"a":2010,"s":"F","e":35.5,"p":3.15},{"a":2010,"s":"F","e":36.5,"p":3.25},{"a":2010,"s":"F","e":37.5,"p":3.3},{"a":2010,"s":"F","e":38.5,"p":3.4},{"a":2010,"s":"F","e":39.5,"p":3.4},{"a":2010,"s":"F","e":40.5,"p":3.4},{"a":2010,"s":"F","e":41.5,"p":3.4},{"a":2010,"s":"F","e":42.5,"p":3.35},{"a":2010,"s":"F","e":43.5,"p":3.25},{"a":2010,"s":"F","e":44.5,"p":3.2},{"a":2010,"s":"F","e":45.5,"p":3.1},{"a":2010,"s":"F","e":46.5,"p":3.0},{"a":2010,"s":"F","e":47.5,"p":2.9},{"a":2010,"s":"F","e":48.5,"p":2.8},{"a":2010,"s":"F","e":49.5,"p":2.65},{"a":2010,"s":"F","e":50.5,"p":2.5},{"a":2010,"s":"F","e":51.5,"p":2.4},{"a":2010,"s":"F","e":52.5,"p":2.25},{"a":2010,"s":"F","e":53.5,"p":2.1},{"a":2010,"s":"F","e":54.5,"p":1.95},{"a":2010,"s":"F","e":55.5,"p":1.8},{"a":2010,"s":"F","e":56.5,"p":1.6},{"a":2010,"s":"F","e":57.5,"p":1.45},{"a":2010,"s":"F","e":58.5,"p":1.3},{"a":2010,"s":"F","e":59.5,"p":1.15},{"a":2010,"s":"F","e":60.5,"p":1.0},{"a":2010,"s":"F","e":61.5,"p":0.87},{"a":2010,"s":"F","e":62.5,"p":0.74},{"a":2010,"s":"F","e":63.5,"p":0.62},{"a":2010,"s":"F","e":64.5,"p":0.51},{"a":2010,"s":"F","e":65.5,"p":0.42},{"a":2010,"s":"F","e":66.5,"p":0.33},{"a":2010,"s":"F","e":67.5,"p":0.26},{"a":2010,"s":"F","e":68.5,"p":0.2},{"a":2010,"s":"F","e":69.5,"p":0.16},{"a":2010,"s":"F","e":70.5,"p":0.13},{"a":2010,"s":"F","e":71.5,"p":0.1},{"a":2010,"s":"F","e":72.5,"p":0.08},{"a":2010,"s":"F","e":73.5,"p":0.07},{"a":2010,"s":"F","e":74.5,"p":0.05},{"a":2010,"s":"F","e":75.5,"p":0.04},{"a":2010,"s":"F","e":76.5,"p":0.04},{"a":2010,"s":"F","e":77.5,"p":0.03},{"a":2010,"s":"F","e":78.5,"p":0.03},{"a":2010,"s":"F","e":79.5,"p":0.02},{"a":2010,"s":"F","e":80.5,"p":0.02},{"a":2010,"s":"F","e":81.5,"p":0.01},
{"a":2010,"s":"N","e":18,"p":0.39},{"a":2010,"s":"N","e":21,"p":0.65},{"a":2010,"s":"N","e":24,"p":1.02},{"a":2010,"s":"N","e":27,"p":1.48},{"a":2010,"s":"N","e":30,"p":2.01},{"a":2010,"s":"N","e":33,"p":2.55},{"a":2010,"s":"N","e":36,"p":3.03},{"a":2010,"s":"N","e":39,"p":3.36},{"a":2010,"s":"N","e":42,"p":3.48},{"a":2010,"s":"N","e":45,"p":3.36},{"a":2010,"s":"N","e":48,"p":3.03},{"a":2010,"s":"N","e":51,"p":2.55},{"a":2010,"s":"N","e":54,"p":2.01},{"a":2010,"s":"N","e":57,"p":1.48},{"a":2010,"s":"N","e":60,"p":1.02},{"a":2010,"s":"N","e":63,"p":0.65},{"a":2010,"s":"N","e":66,"p":0.39},{"a":2010,"s":"N","e":69,"p":0.22},{"a":2010,"s":"N","e":72,"p":0.11},{"a":2010,"s":"N","e":75,"p":0.054},{"a":2010,"s":"N","e":78,"p":0.025},{"a":2010,"s":"N","e":81,"p":0.01},{"a":2010,"s":"N","e":84,"p":0.004},{"a":2010,"s":"N","e":89,"p":0.001}
]},
"facet": {"field": "a", "type": "ordinal", "header": {"labels": false, "labelFontSize": 0, "labelPadding": 0, "labelExpr": "''", "title": "Edad en años cumplidos\u2800\u2800\u2800", "titleOrient": "bottom", "titleFontSize": 15, "titleFontWeight": "normal", "titleFont": "Liberation Sans", "titleColor": "#000", "titlePadding": 36}},
"columns": 3,
"spacing": {"row": 40, "column": 14},
"bounds": "flush",
"resolve": {"axis": {"x": "independent"}},
"spec": {
  "width": 210,
  "height": 111,
  "layer": [
    {"transform": [{"aggregate": [{"op": "count", "as": "n"}], "groupby": ["a"]}],
     "mark": {"type": "rect"},
     "encoding": {
       "x": {"datum": 13, "type": "quantitative", "axis": {"title": null}},
       "x2": {"datum": 104},
       "y": {"datum": 11.2, "type": "quantitative", "axis": {"title": null}},
       "y2": {"datum": 14},
       "fill": {"field": "a", "type": "nominal", "legend": null, "scale": {"domain": [2002,2003,2004,2005,2006,2007,2008,2009,2010], "range": ["#e0e4ef","#e0e4ef","#e0e4ef","#e9f1f2","#e0e4ef","#e0e4ef","#e0e4ef","#e0e4ef","#e0e4ef"]}}
     }},
    {"transform": [{"aggregate": [{"op": "count", "as": "n"}], "groupby": ["a"]}],
     "mark": {"type": "rule", "color": "#000", "strokeWidth": 1.2},
     "encoding": {"y": {"datum": 11.2, "type": "quantitative", "axis": {"title": null}}}},
    {"transform": [{"aggregate": [{"op": "count", "as": "n"}], "groupby": ["a"]}],
     "mark": {"type": "text", "fontSize": 16, "color": "#000", "baseline": "middle", "font": "Liberation Sans"},
     "encoding": {"y": {"datum": 12.6, "type": "quantitative", "axis": {"title": null}}, "text": {"field": "a", "type": "nominal"}}},
    {"transform": [{"filter": "datum.s == 'F'"}],
     "mark": {"type": "bar", "binSpacing": 0},
     "encoding": {
       "x": {"field": "e", "type": "quantitative", "bin": {"binned": true, "step": 1}, "scale": {"domain": [13, 104], "nice": false, "zero": false}, "axis": {"title": null, "values": [20, 40, 60, 80, 100], "format": "d"}},
       "y": {"field": "p", "type": "quantitative", "scale": {"domain": [0, 14], "nice": false}, "axis": {"title": null, "values": [0, 5, 10], "grid": true}},
       "color": {"field": "s", "type": "nominal", "scale": {"domain": ["F", "N"], "range": ["#80bde9", "#0000ff"]},
         "legend": {"orient": "none", "legendX": 139, "legendY": 476, "direction": "horizontal", "title": null, "labelExpr": "datum.label == 'F' ? 'Frecuencia' : 'Distribución normal'", "labelFontSize": 11, "labelColor": "#000", "labelFont": "Liberation Sans", "symbolSize": 196, "symbolOffset": 28, "labelOffset": 40, "columnPadding": 25,
           "encode": {"symbols": {"update": {
             "shape": {"signal": "datum.value == 'F' ? 'M-5.1,-1H5.1V1H-5.1Z' : 'M-5.1,-1M-5.1,1M-5.1,0H5.1'"},
             "fill": {"signal": "datum.value == 'F' ? '#80bde9' : 'transparent'"},
             "stroke": {"signal": "datum.value == 'F' ? 'transparent' : '#0000ff'"},
             "strokeWidth": {"value": 1.5}}}}}}
     }},
    {"transform": [{"filter": "datum.s == 'N'"}],
     "mark": {"type": "line", "interpolate": "monotone", "strokeWidth": 2},
     "encoding": {
       "x": {"field": "e", "type": "quantitative"},
       "y": {"field": "p", "type": "quantitative"},
       "color": {"field": "s", "type": "nominal"}
     }}
  ]
},
"config": {
  "font": "Liberation Sans",
  "header": {"labels": false},
  "view": {"stroke": "#111", "strokeWidth": 1},
  "axis": {"domain": false, "tickColor": "#000", "tickSize": 6, "labelFontSize": 14, "labelColor": "#000", "labelFont": "Liberation Sans", "grid": false},
  "axisY": {"gridColor": "#e2e2e2", "gridWidth": 1.5, "labelAngle": -90, "labelAlign": "center", "labelBaseline": "bottom", "labelPadding": 4},
  "axisX": {"labelPadding": 2}
}
}
